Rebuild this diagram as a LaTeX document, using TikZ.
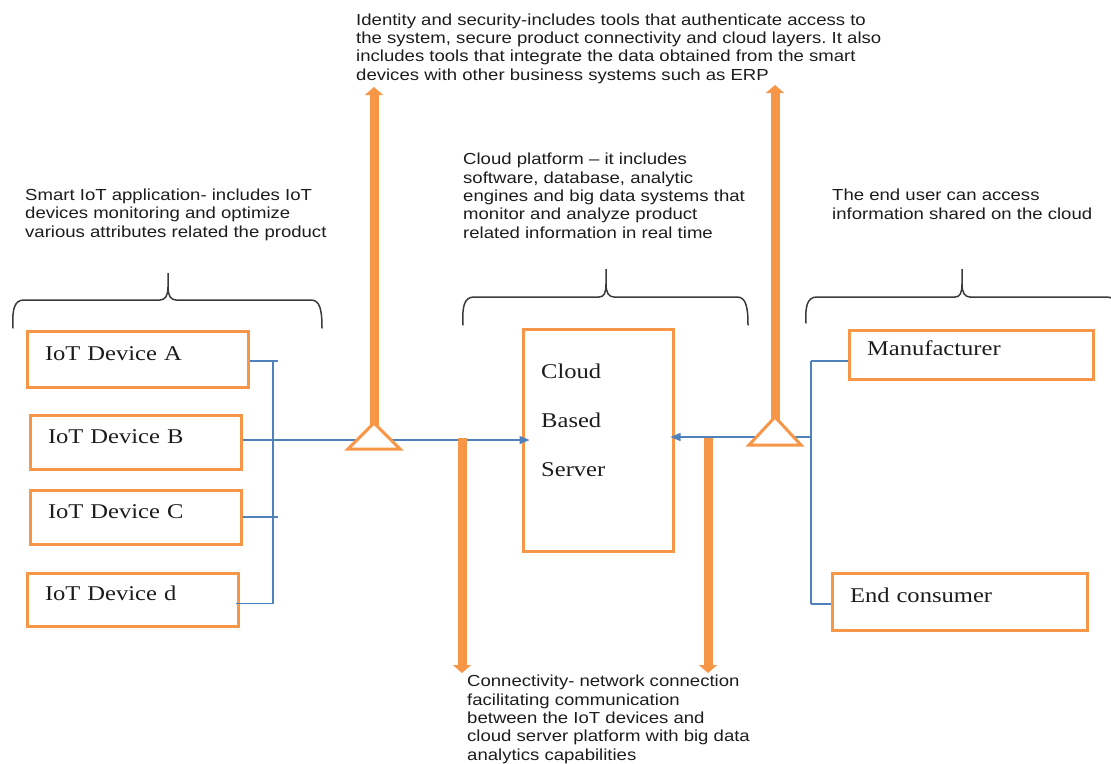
\documentclass[tikz,border=0pt]{standalone}
\usepackage{fontspec}
\setmainfont[FakeStretch=1.17]{Liberation Serif}
\newfontfamily\labelfont[FakeStretch=1.16]{Liberation Sans}
\usetikzlibrary{arrows.meta,calc}
\frenchspacing

\definecolor{boxorange}{HTML}{F79646}
\definecolor{linkblue}{HTML}{4F81BD}
\definecolor{bracegray}{HTML}{3A3A3A}
\definecolor{inkgray}{HTML}{1C1C1C}

\begin{document}
\begin{tikzpicture}[x=1pt,y=-1pt,
  devbox/.style={draw=boxorange, line width=3pt, rectangle, inner xsep=18pt,
    align=left, text height=14pt, text depth=12pt,
    font=\fontsize{21}{24}\selectfont, text=inkgray},
  plainbox/.style={draw=boxorange, line width=3pt, rectangle, inner sep=0pt},
  note/.style={anchor=base west, inner sep=0pt, align=left, text=inkgray,
    font=\labelfont\fontsize{16}{18.3}\selectfont},
  servertext/.style={anchor=base west, inner sep=0pt, align=left, text=inkgray,
    font=\fontsize{21}{49}\selectfont},
  link/.style={draw=linkblue, line width=1.2pt},
  linkarrow/.style={link, -{Triangle[length=10pt,width=8pt]}},
  fatarrow/.style={draw=boxorange, line width=9pt, -{Triangle[length=8pt,width=18pt]}},
  splitter/.style={draw=boxorange, line width=3pt, fill=white, line join=miter},
  brace/.style={draw=bracegray, line width=1.5pt, line cap=round}]

\useasboundingbox (0,0) rectangle (1111,763);

% ---------- descriptive notes (placed by the baseline of their last line) ----------
\node[note] (idnote) at (356,80) {Identity and security-includes tools that authenticate access to\\
the system, secure product connectivity and cloud layers. It also\\
includes tools that integrate the data obtained from the smart\\
devices with other business systems such as ERP};

\node[note] (appnote) at (25,237) {Smart IoT application- includes IoT\\
devices monitoring and optimize\\
various attributes related the product};

\node[note] (cloudnote) at (463,238) {Cloud platform – it includes\\
software, database, analytic\\
engines and big data systems that\\
monitor and analyze product\\
related information in real time};

\node[note] (usernote) at (832,219) {The end user can access\\
information shared on the cloud};

\node[note] (connnote) at (467,760) {Connectivity- network connection\\
facilitating communication\\
between the IoT devices and\\
cloud server platform with big data\\
analytics capabilities};

% ---------- braces over the three groups ----------
\draw[brace] (13,328) .. controls (12,310) and (14,300) .. (24,300) -- (160,300)
  .. controls (165,300) and (168,296) .. (168,287) -- (168,273) -- (168,287)
  .. controls (168,296) and (171,300) .. (176,300) -- (311,300)
  .. controls (320,300) and (322,310) .. (322,328);
\draw[brace] (463,325) .. controls (462,307) and (464,297) .. (474,297) -- (599,297)
  .. controls (604,297) and (606,293) .. (606,284) -- (606,269) -- (606,284)
  .. controls (606,293) and (609,297) .. (614,297) -- (737,297)
  .. controls (746,297) and (748,307) .. (748,325);
\draw[brace] (806,323) .. controls (805,307) and (807,297) .. (817,297) -- (955,297)
  .. controls (960,297) and (962,293) .. (962,284) -- (962,269) -- (962,284)
  .. controls (962,293) and (965,297) .. (970,297) -- (1107,297)
  .. controls (1116,297) and (1118,307) .. (1118,323);

% ---------- IoT devices ----------
\node[devbox, text width=185pt, minimum height=56pt] (devA) at (137.5,359) {IoT Device A};
\node[devbox, text width=175pt, minimum height=54pt] (devB) at (135.5,442) {IoT Device B};
\node[devbox, text width=175pt, minimum height=54pt] (devC) at (135.5,517) {IoT Device C};
\node[devbox, text width=175pt, minimum height=53pt] (devD) at (132.5,599.5) {IoT Device d};

% ---------- cloud server ----------
\node[plainbox, minimum width=150pt, minimum height=222pt] (server) at (598,440) {};
\node[servertext] (serverlabel) at (541,476) {Cloud\\Based\\Server};

% ---------- stakeholders ----------
\node[devbox, text width=208pt, minimum height=49pt] (maker) at (971,354.5) {Manufacturer};
\node[devbox, text width=219pt, minimum height=57pt] (consumer) at (959.5,601.5) {End consumer};

% ---------- bus and link points ----------
\coordinate (lbus) at (273,0);
\coordinate (ltick) at (278,0);
\coordinate (rbus) at (811,437);
\coordinate (apexL) at (374,423);
\coordinate (apexR) at (775,417);
\coordinate (topL) at (374,87);
\coordinate (topR) at (775,85);
\coordinate (dropL) at (462,438);
\coordinate (dropR) at (708,438);
\coordinate (endL) at (462,673);
\coordinate (endR) at (708,673);

% left bus collecting the devices
\draw[link] ([yshift=-2pt]devA.east) -- ([yshift=-2pt]devA.east -| ltick);
\draw[link] (devC.east) -- (devC.east -| ltick);
\draw[link] ([xshift=-4pt,yshift=-4pt]devD.east) -- ([yshift=-4pt]devD.east -| lbus);
\draw[link] ([yshift=-2pt]devA.east -| lbus) -- ([yshift=-4pt]devD.east -| lbus);
\draw[linkarrow, shorten >=-8pt] ([yshift=2pt]devB.east) -- ([yshift=2pt]devB.east -| server.west);

% right bus joining the stakeholders
\coordinate (rtop) at ([yshift=-6.5pt]maker.west -| rbus);
\coordinate (rbot) at ([yshift=-2.5pt]consumer.west -| rbus);
\draw[link] (rtop) -- ([yshift=-6.5pt]maker.west);
\draw[link] (rbot) -- ([yshift=-2.5pt]consumer.west);
\draw[link] (rtop) -- (rbot);
\draw[linkarrow, shorten >=-4pt] (rbus) -- (rbus -| server.east);

% connectivity drops
\draw[fatarrow] (dropL) -- (endL);
\draw[fatarrow] (dropR) -- (endR);

% identity and security risers
\draw[fatarrow] ([yshift=-5pt]apexL) -- (topL);
\draw[fatarrow] ([yshift=-4pt]apexR) -- (topR);
\draw[splitter] (apexL) -- ++(26,26) -- ++(-52,0) -- cycle;
\draw[splitter] (apexR) -- ++(26,28) -- ++(-52,0) -- cycle;

\end{tikzpicture}
\end{document}
